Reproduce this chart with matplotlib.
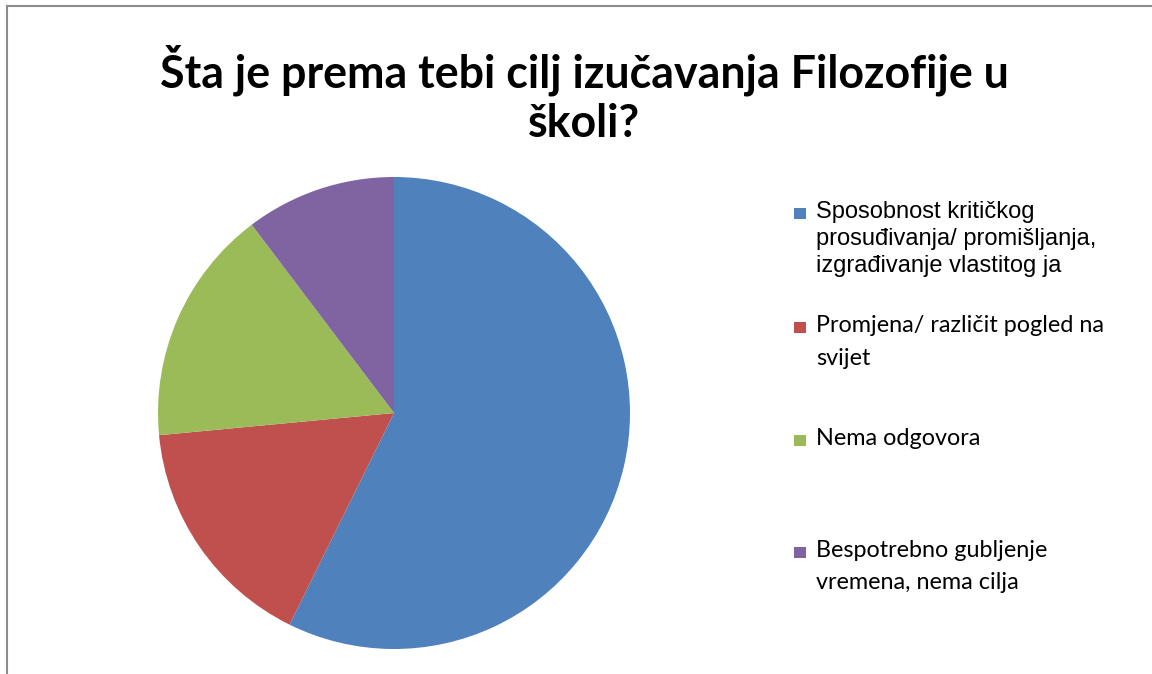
import matplotlib
matplotlib.use("Agg")
import matplotlib.pyplot as plt
from matplotlib.patches import Rectangle
from matplotlib.lines import Line2D

title_lines = ["Šta je prema tebi cilj izučavanja Filozofije u", "školi?"]
labels = [
    ["Sposobnost kritičkog", "prosuđivanja/ promišljanja,", "izgrađivanje vlastitog ja"],
    ["Promjena/ različit pogled na", "svijet"],
    ["Nema odgovora"],
    ["Bespotrebno gubljenje", "vremena, nema cilja"],
]
values = [57.3, 16.2, 16.2, 10.3]
colors = ["#4F81BD", "#C0504D", "#9BBB59", "#8064A2"]
label_fonts = ["Liberation Sans", "Lato", "Lato", "Lato"]
label_sizes = [17, 16.8, 16.8, 16.8]

W, H = 1152, 674
fig = plt.figure(figsize=(W / 100, H / 100), dpi=100)
fig.patch.set_facecolor("white")

# frame lines (top and left)
fig.add_artist(Line2D([7 / W, 1.0], [1 - 6 / H, 1 - 6 / H], color="#8c8c8c", lw=1.5))
fig.add_artist(Line2D([7 / W, 7 / W], [0, 1 - 6 / H], color="#8c8c8c", lw=1.5))

# pie
cx, cy, r = 394, 413, 236
ax = fig.add_axes([(cx - r) / W, (H - cy - r) / H, 2 * r / W, 2 * r / H])
ax.pie(values, colors=colors, startangle=90, counterclock=False,
       wedgeprops=dict(linewidth=0))
ax.set_xlim(-1, 1)
ax.set_ylim(-1, 1)
ax.set_aspect("auto")
ax.axis("off")

# title
for line, by in zip(title_lines, [88, 137]):
    fig.text(584 / W, 1 - by / H, line, ha="center", va="baseline",
             fontsize=32.2, fontweight="bold", family=["Lato", "DejaVu Sans"])

# legend
baselines = [[218, 245, 272], [332, 365], [445], [557, 589]]
for lines, col, fam, fs, bls in zip(labels, colors, label_fonts, label_sizes, baselines):
    b0 = bls[0]
    fig.add_artist(Rectangle((794 / W, 1 - (b0 + 1) / H), 11.5 / W, 11.5 / H,
                             transform=fig.transFigure, facecolor=col,
                             edgecolor="none"))
    for line, by in zip(lines, bls):
        fig.text(816 / W, 1 - by / H, line, ha="left", va="baseline",
                 fontsize=fs, family=[fam, "DejaVu Sans"])

fig.savefig("out.png", dpi=100)
